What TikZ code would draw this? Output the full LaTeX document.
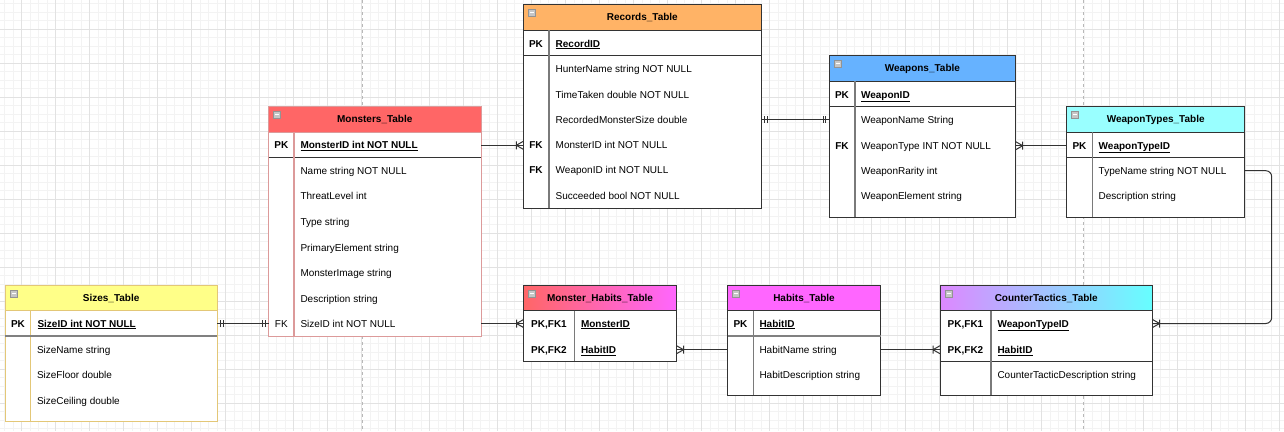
\documentclass[tikz,border=0pt]{standalone}
\usepackage{fontspec}
\setmainfont{Liberation Sans}
\definecolor{linec}{HTML}{333333}
\definecolor{connc}{HTML}{333333}
\definecolor{divc}{HTML}{7A7A7A}
\definecolor{minorg}{HTML}{F3F3F3}
\definecolor{majorg}{HTML}{E2E2E2}
\definecolor{pageg}{HTML}{B8B8B8}
\definecolor{recc}{HTML}{FFB366}
\definecolor{monc}{HTML}{FF6666}
\definecolor{monb}{HTML}{DC9A9A}
\definecolor{sizc}{HTML}{FFFF88}
\definecolor{sizb}{HTML}{E3C777}
\definecolor{wepc}{HTML}{66B2FF}
\definecolor{wtyc}{HTML}{99FFFF}
\definecolor{habc}{HTML}{FF66FF}
\definecolor{ctl}{HTML}{DD88FF}
\definecolor{ctr}{HTML}{66FFFF}
\begin{document}
\begin{tikzpicture}[x=1pt,y=-1pt,
  every node/.style={inner sep=0pt,outer sep=0pt,font=\fontsize{10}{12}\selectfont,text=black},
  tablebox/.style={draw=linec,line width=1pt,fill=white,anchor=north west},
  header/.style={draw=linec,line width=1pt,anchor=north west,minimum height=26pt,
    text height=9pt,text depth=2pt,font=\fontsize{10}{12}\selectfont\bfseries},
  fld/.style={anchor=west,text height=9pt,text depth=2pt},
  pkfld/.style={fld,font=\fontsize{10}{12}\selectfont\bfseries},
  keylbl/.style={anchor=center,text height=9pt,text depth=2pt,font=\fontsize{10}{12}\selectfont\bfseries},
  keyreg/.style={anchor=center,text height=9pt,text depth=2pt},
  divider/.style={draw=divc,line width=1.2pt},
  sepline/.style={draw=linec,line width=1pt},
  thicksep/.style={draw=gray,line width=1.7pt},
  conn/.style={draw=connc,line width=1pt},
  icon/.style={anchor=north west,minimum size=7pt,fill=gray!45,draw=gray!85,line width=0.6pt,
    path picture={\draw[white,line width=0.9pt] ([xshift=1.5pt]path picture bounding box.west) -- ([xshift=-1.5pt]path picture bounding box.east);}},
  crowfoot/.pic={\draw[conn] (-7,-4) -- (-7,4) (-7,0) -- (0,-4) (-7,0) -- (0,4);},
  twobars/.pic={\draw[conn] (-3.5,-3.5) -- (-3.5,3.5) (-6,-3.5) -- (-6,3.5);}
]
\useasboundingbox (0,0) rectangle (1284,431);
\fill[white] (0,0) rectangle (1284,431);
% grid
\foreach \i in {0,...,151} \draw[minorg,line width=0.8pt] ({4.7+\i*8.5},0) -- ({4.7+\i*8.5},431);
\foreach \j in {0,...,50} \draw[minorg,line width=0.8pt] (0,{3.8+\j*8.5}) -- (1284,{3.8+\j*8.5});
\foreach \i in {0,...,37} \draw[majorg,line width=0.9pt] ({21.7+\i*34},0) -- ({21.7+\i*34},431);
\foreach \j in {0,...,12} \draw[majorg,line width=0.9pt] (0,{29.3+\j*34}) -- (1284,{29.3+\j*34});
\draw[pageg,line width=0.9pt,dash pattern=on 3pt off 3pt] (362.3,0) -- (362.3,431);
\draw[pageg,line width=0.9pt,dash pattern=on 3pt off 3pt] (1083.7,0) -- (1083.7,431);

% ===== Records_Table
\node[tablebox,minimum width=238pt,minimum height=204pt] (rec) at (523.3,4.3) {};
\node[header,fill=recc,minimum width=238pt] (rech) at (rec.north west) {Records\_Table};
\node[icon] (reci) at ([shift={(5,5)}]rech.north west) {};
\draw[sepline] (523.3,55.3) -- (761.3,55.3);
\draw[divider] (549,30.3) -- (549,208.3);
\node[keylbl] (reck0) at (536,43.7) {PK};
\node[pkfld] (rec0) at (555.7,43.7) {\underline{RecordID}};
\node[fld] (rec1) at (555.7,68.7) {HunterName string NOT NULL};
\node[fld] (rec2) at (555.7,94.7) {TimeTaken double NOT NULL};
\node[fld] (rec3) at (555.7,119.7) {RecordedMonsterSize double};
\node[keylbl] (reck4) at (536,145.3) {FK};
\node[fld] (rec4) at (555.7,145.3) {MonsterID int NOT NULL};
\node[keylbl] (reck5) at (536,170.3) {FK};
\node[fld] (rec5) at (555.7,170.3) {WeaponID int NOT NULL};
\node[fld] (rec6) at (555.7,196.3) {Succeeded bool NOT NULL};

% ===== Monsters_Table
\node[tablebox,draw=monb,minimum width=212.5pt,minimum height=229.7pt] (mon) at (268.5,106.3) {};
\node[header,draw=monb,fill=monc,minimum width=212.5pt] (monh) at (mon.north west) {Monsters\_Table};
\node[icon] (moni) at ([shift={(5,5)}]monh.north west) {};
\draw[sepline] (268.5,157.3) -- (481,157.3);
\draw[divider,draw=monb] (294,132.3) -- (294,335.5);
\node[keylbl] (monk0) at (281.3,145.3) {PK};
\node[pkfld] (mon0) at (300.5,145.3) {\underline{MonsterID int NOT NULL}};
\node[fld] (mon1) at (300.5,170.7) {Name string NOT NULL};
\node[fld] (mon2) at (300.5,196.3) {ThreatLevel int};
\node[fld] (mon3) at (300.5,221.7) {Type string};
\node[fld] (mon4) at (300.5,247.7) {PrimaryElement string};
\node[fld] (mon5) at (300.5,272.7) {MonsterImage string};
\node[fld] (mon6) at (300.5,299) {Description string};
\node[keyreg] (monk7) at (281.3,323.5) {FK};
\node[fld] (mon7) at (300.5,323.5) {SizeID int NOT NULL};

% ===== Sizes_Table
\node[tablebox,draw=sizb,minimum width=212.3pt,minimum height=135.7pt] (siz) at (5,285.3) {};
\node[header,draw=sizb,fill=sizc,minimum width=212.3pt,minimum height=25pt] (sizh) at (siz.north west) {Sizes\_Table};
\node[icon] (sizi) at ([shift={(5,5)}]sizh.north west) {};
\draw[divider,draw=sizb] (30.7,310.3) -- (30.7,420.5);
\draw[thicksep] (5,336) -- (217.3,336);
\node[keylbl] (sizk0) at (18,323.5) {PK};
\node[pkfld] (siz0) at (37.5,323.5) {\underline{SizeID int NOT NULL}};
\node[fld] (siz1) at (37,349.7) {SizeName string};
\node[fld] (siz2) at (37,374.7) {SizeFloor double};
\node[fld] (siz3) at (37,400.7) {SizeCeiling double};

% ===== Weapons_Table
\node[tablebox,minimum width=186.7pt,minimum height=161.7pt] (wep) at (829,55.3) {};
\node[header,fill=wepc,minimum width=186.7pt] (weph) at (wep.north west) {Weapons\_Table};
\node[icon] (wepi) at ([shift={(5,5)}]weph.north west) {};
\draw[sepline] (829,106.3) -- (1015.7,106.3);
\draw[divider] (855,81.3) -- (855,217);
\node[keylbl] (wepk0) at (842,94.7) {PK};
\node[pkfld] (wep0) at (861,94.7) {\underline{WeaponID}};
\node[fld] (wep1) at (861,119.7) {WeaponName String};
\node[keylbl] (wepk2) at (842,145.7) {FK};
\node[fld] (wep2) at (861,145.7) {WeaponType INT NOT NULL};
\node[fld] (wep3) at (861,170.7) {WeaponRarity int};
\node[fld] (wep4) at (861,196.3) {WeaponElement string};

% ===== WeaponTypes_Table
\node[tablebox,minimum width=178pt,minimum height=110.7pt] (wty) at (1066.7,106.3) {};
\node[header,fill=wtyc,minimum width=178pt,minimum height=25.7pt] (wtyh) at (wty.north west) {WeaponTypes\_Table};
\node[icon] (wtyi) at ([shift={(5,5)}]wtyh.north west) {};
\draw[sepline] (1066.7,157.7) -- (1244.7,157.7);
\draw[divider] (1092.3,132) -- (1092.3,217);
\node[keylbl] (wtyk0) at (1079.5,145.7) {PK};
\node[pkfld] (wty0) at (1098.7,145.7) {\underline{WeaponTypeID}};
\node[fld] (wty1) at (1098.7,170.7) {TypeName string NOT NULL};
\node[fld] (wty2) at (1098.7,196.3) {Description string};

% ===== Monster_Habits_Table
\node[tablebox,minimum width=153pt,minimum height=76.3pt] (mh) at (523.5,285) {};
\node[header,left color=monc,right color=habc,minimum width=153pt,minimum height=25.7pt] (mhh) at (mh.north west) {Monster\_Habits\_Table};
\node[icon] (mhi) at ([shift={(5,5)}]mhh.north west) {};
\draw[divider] (574.5,310.7) -- (574.5,361.3);
\node[keylbl] (mhk0) at (549,323.5) {PK,FK1};
\node[pkfld] (mh0) at (581,323.5) {\underline{MonsterID}};
\node[keylbl] (mhk1) at (549,349.7) {PK,FK2};
\node[pkfld] (mh1) at (581,349.7) {\underline{HabitID}};

% ===== Habits_Table
\node[tablebox,minimum width=153pt,minimum height=110.3pt] (hab) at (727.5,285) {};
\node[header,fill=habc,minimum width=153pt,minimum height=25.7pt] (habh) at (hab.north west) {Habits\_Table};
\node[icon] (habi) at ([shift={(5,5)}]habh.north west) {};
\draw[divider] (753.5,310.7) -- (753.5,395.3);
\draw[thicksep] (727.5,335.7) -- (880.5,335.7);
\node[keylbl] (habk0) at (740.5,323.5) {PK};
\node[pkfld] (hab0) at (759.5,323.5) {\underline{HabitID}};
\node[fld] (hab1) at (759.5,349.7) {HabitName string};
\node[fld] (hab2) at (759.5,375) {HabitDescription string};

% ===== CounterTactics_Table
\node[tablebox,minimum width=212.5pt,minimum height=110.3pt] (ct) at (940,285) {};
\node[header,left color=ctl,right color=ctr,minimum width=212.5pt,minimum height=25.7pt] (cth) at (ct.north west) {CounterTactics\_Table};
\node[icon] (cti) at ([shift={(5,5)}]cth.north west) {};
\draw[sepline] (940,361) -- (1152.5,361);
\draw[divider] (991,310.7) -- (991,395.3);
\node[keylbl] (ctk0) at (965.5,323.5) {PK,FK1};
\node[pkfld] (ct0) at (997.5,323.5) {\underline{WeaponTypeID}};
\node[keylbl] (ctk1) at (965.5,349.7) {PK,FK2};
\node[pkfld] (ct1) at (997.5,349.7) {\underline{HabitID}};
\node[fld] (ct2) at (997.5,375) {CounterTacticDescription string};

% ===== connectors
\coordinate (bendA) at (1271.7,170.7);
\draw[conn] (mon.east |- mon0) -- (rec.west |- rec4);
\pic at (rec.west |- rec4) {crowfoot};

\draw[conn] (rec.east |- rec3) -- (wep.west |- wep1);
\pic[rotate=180] at (rec.east |- rec3) {twobars};
\pic at (wep.west |- wep1) {twobars};

\draw[conn] (wty.west |- wty0) -- (wep.east |- wep2);
\pic[rotate=180] at (wep.east |- wep2) {crowfoot};

\draw[conn,rounded corners=6pt] (wty.east |- wty1) -- (bendA) |- (ct.east |- ct0);
\pic[rotate=180] at (ct.east |- ct0) {crowfoot};

\draw[conn] (siz.east |- siz0) -- (mon.west |- mon7);
\pic[rotate=180] at (siz.east |- siz0) {twobars};
\pic at (mon.west |- mon7) {twobars};

\draw[conn] (mon.east |- mon7) -- (mh.west |- mh0);
\pic at (mh.west |- mh0) {crowfoot};

\draw[conn] (hab.west |- hab1) -- (mh.east |- mh1);
\pic[rotate=180] at (mh.east |- mh1) {crowfoot};

\draw[conn] (hab.east |- hab1) -- (ct.west |- ct1);
\pic at (ct.west |- ct1) {crowfoot};
\end{tikzpicture}
\end{document}
